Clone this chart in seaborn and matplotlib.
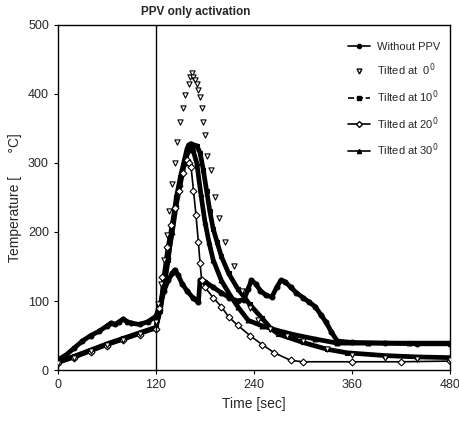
import matplotlib
matplotlib.use("Agg")
import matplotlib.pyplot as plt
import seaborn as sns
import pandas as pd
from matplotlib.lines import Line2D

# ---- data ----
t_without = [0, 10, 20, 30, 40, 50, 60, 65, 70, 75, 80, 85, 90, 100, 110, 120,
             125, 130, 135, 140, 143, 147, 152, 158, 165, 172, 174, 180, 190, 200,
             210, 220, 228, 233, 237, 242, 248, 255, 262, 268, 273, 278, 285, 292,
             300, 308, 315, 322, 328, 335, 342, 360, 400, 440, 480]
v_without = [15, 22, 32, 42, 50, 56, 64, 68, 66, 70, 74, 70, 68, 66, 70, 78,
             95, 115, 130, 140, 145, 138, 125, 115, 105, 98, 130, 128, 120, 112,
             105, 100, 102, 118, 130, 125, 115, 108, 106, 120, 130, 128, 120, 112,
             105, 98, 92, 80, 70, 55, 42, 40, 39, 38, 38]

t_0 = [0, 20, 40, 60, 80, 100, 120, 123, 126, 130, 133, 136, 140, 143, 146, 150,
       153, 156, 160, 162, 164, 166, 168, 170, 172, 174, 176, 178, 180, 183, 187,
       192, 197, 205, 215, 225, 235, 245, 260, 280, 300, 330, 360, 400, 440, 480]
v_0 = [10, 18, 27, 36, 44, 52, 70, 95, 125, 160, 195, 230, 270, 300, 330, 360,
       380, 398, 415, 425, 430, 425, 420, 415, 405, 395, 380, 360, 340, 310, 290,
       250, 220, 185, 150, 115, 90, 72, 60, 50, 42, 30, 22, 18, 16, 15]

t_10 = [0, 20, 40, 60, 80, 100, 120, 125, 130, 135, 140, 145, 150, 155, 158, 160,
        163, 166, 170, 174, 178, 182, 186, 190, 195, 200, 209, 220, 235, 250,
        261, 270, 300, 330, 354, 400, 440, 480]
v_10 = [12, 20, 29, 38, 46, 54, 62, 85, 120, 160, 210, 250, 280, 305, 320, 326,
        328, 326, 325, 315, 290, 260, 230, 205, 185, 165, 140, 118, 95, 75,
        60, 52, 40, 30, 25, 21, 19, 18]

t_20 = [0, 20, 40, 60, 80, 100, 120, 124, 128, 133, 138, 143, 148, 153, 158, 161,
        163, 166, 169, 172, 174, 176, 180, 190, 200, 209, 220, 235, 250, 265, 285,
        300, 360, 420, 480]
v_20 = [10, 17, 26, 35, 43, 51, 60, 90, 135, 178, 210, 235, 260, 285, 304, 300,
        294, 260, 225, 185, 155, 130, 120, 105, 92, 77, 65, 50, 37, 25, 14,
        12, 12, 12, 13]

t_30 = [0, 20, 40, 60, 80, 100, 120, 125, 130, 135, 140, 145, 150, 155, 160, 165,
        170, 175, 180, 185, 190, 200, 210, 220, 233, 250, 270, 290, 315, 342,
        380, 430, 480]
v_30 = [11, 19, 28, 37, 45, 53, 61, 90, 125, 165, 200, 240, 270, 300, 318, 320,
        300, 255, 215, 185, 160, 130, 110, 92, 72, 64, 57, 51, 45, 39,
        39, 39, 39]

x_ticks = [0, 120, 240, 360, 480]
y_ticks = [0, 100, 200, 300, 400, 500]

labels = ["Without PPV", "Tilted at  0$^0$", "Tilted at 10$^0$",
          "Tilted at 20$^0$", "Tilted at 30$^0$"]

frames = []
for name, t, v in [(labels[0], t_without, v_without), (labels[1], t_0, v_0),
                   (labels[2], t_10, v_10), (labels[3], t_20, v_20),
                   (labels[4], t_30, v_30)]:
    frames.append(pd.DataFrame({"time": t, "temp": v, "series": name}))
df = pd.concat(frames, ignore_index=True)

sns.set_style("ticks")
plt.rcParams["font.family"] = ["Liberation Sans", "DejaVu Sans"]

fig = plt.figure(figsize=(4.6, 4.21), dpi=100)
ax = fig.add_axes([0.126, 0.121, 0.852, 0.820])

lw = 3.4
styles = {
    labels[0]: dict(marker="o", ms=3.5, mfc="black", lw=lw),
    labels[2]: dict(marker="s", ms=3.5, mfc="black", lw=lw),
    labels[3]: dict(marker="D", ms=3.5, mfc="white", lw=1.2),
    labels[4]: dict(marker="^", ms=3.5, mfc="black", lw=lw),
}
for name in [labels[4], labels[2], labels[0], labels[3]]:
    st = styles[name]
    sub = df[df["series"] == name]
    sns.lineplot(data=sub, x="time", y="temp", ax=ax, color="black",
                 linewidth=st["lw"], marker=st["marker"], markersize=st["ms"],
                 markerfacecolor=st["mfc"], markeredgecolor="black",
                 markeredgewidth=0.8, legend=False, sort=False)

sub0 = df[df["series"] == labels[1]]
sns.scatterplot(data=sub0, x="time", y="temp", ax=ax, marker="v", s=14,
                facecolor="white", edgecolor="black", linewidth=0.8,
                legend=False, zorder=5)

ax.axvline(120, color="black", lw=1.0)

ax.set_xlim(0, 480)
ax.set_ylim(0, 500)
ax.set_xticks(x_ticks)
ax.set_yticks(y_ticks)
ax.tick_params(labelsize=9, length=3, width=0.8, direction="out", color="black")
for s in ax.spines.values():
    s.set_linewidth(1.0)
    s.set_color("black")
    s.set_visible(True)

ax.set_xlabel("Time [sec]", fontsize=10)
ax.set_ylabel("Temperature [      °C]", fontsize=10)
fig.text(0.425, 0.972, "PPV only activation", fontsize=8.5, ha="center",
         va="center", fontweight="semibold")

handles = [
    Line2D([], [], color="black", lw=1.2, marker="o", ms=3, mfc="black"),
    Line2D([], [], color="black", lw=0, marker="v", ms=3.5, mfc="white"),
    Line2D([], [], color="black", lw=1.2, marker="s", ms=3, mfc="black", ls="--"),
    Line2D([], [], color="black", lw=1.2, marker="D", ms=3, mfc="white"),
    Line2D([], [], color="black", lw=1.2, marker="^", ms=3, mfc="black"),
]
ax.legend(handles, labels, loc="upper right", bbox_to_anchor=(1.0, 0.98),
          frameon=False, fontsize=8, handlelength=2.0, labelspacing=0.9,
          handletextpad=0.6)

fig.savefig("out.png", dpi=100, facecolor="white")
